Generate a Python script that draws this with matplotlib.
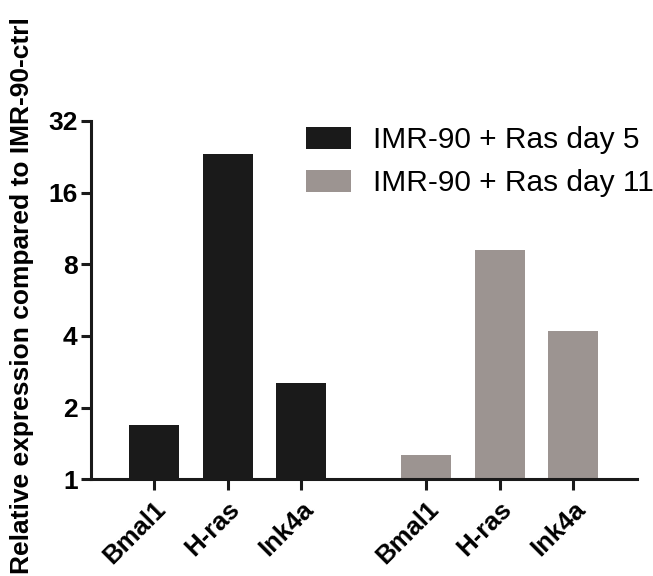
import matplotlib
matplotlib.use("Agg")
import matplotlib.pyplot as plt
from matplotlib.ticker import FixedLocator, NullLocator
from matplotlib.transforms import ScaledTranslation

plt.rcParams['font.family'] = ['Liberation Sans', 'DejaVu Sans']

genes = ['Bmal1', 'H-ras', 'Ink4a']
day5 = [1.69, 23.2, 2.53]
day11 = [1.27, 9.2, 4.19]
series_names = ['IMR-90 + Ras day 5', 'IMR-90 + Ras day 11']
y_ticks = [1, 2, 4, 8, 16, 32]

black = '#1a1a1a'
grey = '#9c9491'

fig = plt.figure(figsize=(6.53, 5.76), dpi=100)
ax = fig.add_axes([0.140, 0.168, 0.836, 0.622])

x5 = [0, 1, 2]
x11 = [3.7, 4.7, 5.7]
w = 0.68
ax.bar(x5, day5, width=w, color=black, label=series_names[0])
ax.bar(x11, day11, width=w, color=grey, label=series_names[1])

ax.set_yscale('log', base=2)
ax.set_ylim(1, 32)
ax.set_xlim(-0.85, 6.57)
ax.yaxis.set_major_locator(FixedLocator(y_ticks))
ax.yaxis.set_minor_locator(NullLocator())
ax.set_yticklabels([str(t) for t in y_ticks], fontsize=19, fontweight='bold')

ax.set_xticks(x5 + x11)
ax.set_xticklabels(genes + genes, fontsize=18.5, fontweight='bold',
                   rotation=45, ha='right', rotation_mode='anchor')
# nudge the rotated labels a little to the left
shift = ScaledTranslation(-6 / 72, 0, fig.dpi_scale_trans)
for lbl in ax.get_xticklabels():
    lbl.set_transform(lbl.get_transform() + shift)

for s in ['top', 'right']:
    ax.spines[s].set_visible(False)
for s in ['left', 'bottom']:
    ax.spines[s].set_linewidth(2.2)
    ax.spines[s].set_color(black)
ax.tick_params(axis='both', width=2.2, color=black)
ax.tick_params(axis='y', length=7, pad=3)
ax.tick_params(axis='x', length=8, pad=5)

ax.set_ylabel('Relative expression compared to IMR-90-ctrl', fontsize=19,
              fontweight='bold')
ax.yaxis.set_label_coords(-0.105, 0.512)

ax.legend(loc='upper left', bbox_to_anchor=(0.393, 0.985), frameon=False,
          fontsize=21.5, handlelength=1.5, handleheight=0.75, handletextpad=0.75,
          labelspacing=0.5, borderpad=0, borderaxespad=0)

fig.savefig('out.png', dpi=100)
